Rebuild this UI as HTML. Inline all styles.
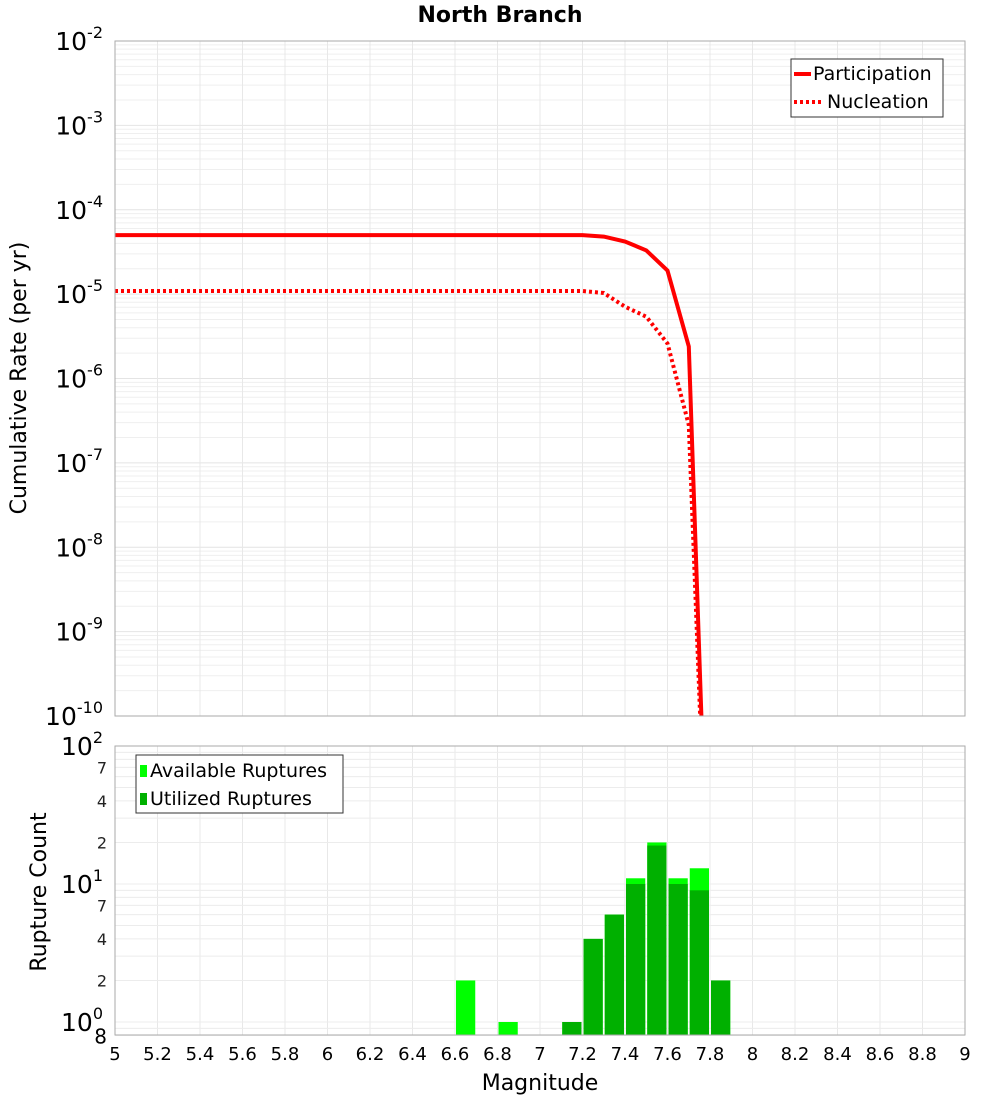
<!DOCTYPE html>
<html><head><meta charset="utf-8"><style>
body{margin:0;background:#fff;font-family:"Liberation Sans","DejaVu Sans",sans-serif}
svg{display:block}
</style></head><body>
<svg id="c" width="1000" height="1100" xmlns="http://www.w3.org/2000/svg" font-family="DejaVu Sans, Liberation Sans, sans-serif">
<text x="500" y="22" text-anchor="middle" font-size="22" font-weight="bold">North Branch</text>
<g id="topPlot"></g>
<g id="botPlot"></g>
<text transform="translate(26,378) rotate(-90)" text-anchor="middle" font-size="22">Cumulative Rate (per yr)</text>
<text transform="translate(46,892) rotate(-90)" text-anchor="middle" font-size="22">Rupture Count</text>
<text x="540" y="1090" text-anchor="middle" font-size="22">Magnitude</text>
</svg>
<script>
const lineMags=[5.0,5.5,6.0,6.5,7.0,7.2,7.3,7.4,7.5,7.6,7.7,7.8];
const participation=[5.0e-5,5.0e-5,5.0e-5,5.0e-5,5.0e-5,5.0e-5,4.8e-5,4.2e-5,3.3e-5,1.9e-5,2.4e-6,1e-13];
const nucleation=[1.09e-5,1.09e-5,1.09e-5,1.09e-5,1.09e-5,1.09e-5,1.03e-5,7.1e-6,5.4e-6,2.6e-6,2.8e-7,1e-13];
const barMags=[6.6,6.8,7.1,7.2,7.3,7.4,7.5,7.6,7.7,7.8];
const available=[2,1,1,4,6,11,20,11,13,2];
const utilized=[0,0,1,4,6,10,19,10,9,2];
const xTicks=["5","5.2","5.4","5.6","5.8","6","6.2","6.4","6.6","6.8","7","7.2","7.4","7.6","7.8","8","8.2","8.4","8.6","8.8","9"];
const topDecades=[-2,-3,-4,-5,-6,-7,-8,-9,-10];
const botMajor=[2,1,0];
const botMinorLabels=["7","4","2"];

const NS="http://www.w3.org/2000/svg";
const L=115,R=965;
const T1=41,B1=716,T2=746,B2=1035;
const x=m=>L+(m-5)/4*(R-L);
const yTop=v=>T1+(-2-Math.log10(v))/8*(B1-T1);
const yBot=v=>T2+(2-Math.log10(v))*138;
function el(p,tag,a){const e=document.createElementNS(NS,tag);for(const k in a)e.setAttribute(k,a[k]);p.appendChild(e);return e;}
const topG=document.getElementById('topPlot'),botG=document.getElementById('botPlot');

for(let d=-10;d<-2;d++){for(let k=1;k<10;k++){const v=k*Math.pow(10,d);const l=el(topG,'line',{x1:L,x2:R,y1:yTop(v),y2:yTop(v),stroke:k==1?'#e4e4e4':'#efefef','stroke-width':1});

}}
xTicks.forEach(t=>{const l=el(topG,'line',{x1:x(+t),x2:x(+t),y1:T1,y2:B1,stroke:'#e8e8e8'});


const l2=el(botG,'line',{x1:x(+t),x2:x(+t),y1:T2,y2:B2,stroke:'#e8e8e8'});

});
topDecades.forEach(d=>{const y=yTop(Math.pow(10,d));const t=el(topG,'text',{x:103,y:y+9,'text-anchor':'end','font-size':25});


t.innerHTML='10<tspan dy="-12" font-size="16">'+d+'</tspan>';});
const clip=el(topG,'clipPath',{id:'cp'});el(clip,'rect',{x:L,y:T1,width:R-L,height:B1-T1});
function path(vals,dash,name){let d='';lineMags.forEach((m,i)=>{d+=(i?'L':'M')+x(m).toFixed(1)+','+yTop(vals[i]).toFixed(1);});
const p=el(topG,'path',{d:d,fill:'none',stroke:'#ff0000','stroke-width':4,'stroke-dasharray':dash,'clip-path':'url(#cp)'});

}
path(participation,'none','participation-line');
path(nucleation,'3,3','nucleation-line');
el(topG,'rect',{x:L,y:T1,width:R-L,height:B1-T1,fill:'none',stroke:'#aaa'});
const lg=el(topG,'g',{});


el(lg,'rect',{x:791,y:59,width:152,height:58,fill:'#fff',stroke:'#333'});
el(lg,'line',{x1:794,x2:811,y1:74,y2:74,stroke:'#f00','stroke-width':4});
el(lg,'line',{x1:794,x2:822,y1:102,y2:102,stroke:'#f00','stroke-width':4,'stroke-dasharray':'3,3'});
const t1=el(lg,'text',{x:813,y:80,'font-size':19});t1.textContent='Participation';


const t2=el(lg,'text',{x:827,y:108,'font-size':19});t2.textContent='Nucleation';



for(let d=-1;d<2;d++){for(let k=1;k<10;k++){const v=k*Math.pow(10,d);if(v<0.8)continue;const l=el(botG,'line',{x1:L,x2:R,y1:yBot(v),y2:yBot(v),stroke:'#ececec'});

}}
botMajor.forEach(d=>{const y=yBot(Math.pow(10,d));const t=el(botG,'text',{x:103,y:y+9,'text-anchor':'end','font-size':25});


t.innerHTML='10<tspan dy="-12" font-size="16">'+d+'</tspan>';
if(d>0)botMinorLabels.forEach(s=>{const v=(+s)*Math.pow(10,d-1);const m=el(botG,'text',{x:107,y:yBot(v)+6,'text-anchor':'end','font-size':16,fill:'#222'});m.textContent=s;

});});
const e8=el(botG,'text',{x:107,y:yBot(0.8)+8,'text-anchor':'end','font-size':20});e8.textContent='8';


barMags.forEach((m,i)=>{const x0=x(m)+1,w=x(m+0.1)-x(m)-2;
if(available[i]>0){const b=el(botG,'rect',{x:x0,y:yBot(available[i]),width:w,height:B2-yBot(available[i]),fill:'#00ff00'});

}
if(utilized[i]>0){const b=el(botG,'rect',{x:x0,y:yBot(utilized[i]),width:w,height:B2-yBot(utilized[i]),fill:'#00b000'});

}});
el(botG,'rect',{x:L,y:T2,width:R-L,height:B2-T2,fill:'none',stroke:'#aaa'});
xTicks.forEach(t=>{const e=el(botG,'text',{x:x(+t),y:1060,'text-anchor':'middle','font-size':18});e.textContent=t;

});
const bl=el(botG,'g',{});


el(bl,'rect',{x:136,y:755,width:207,height:58,fill:'#fff',stroke:'#333'});
el(bl,'rect',{x:140,y:765,width:7,height:12,fill:'#00ff00'});
el(bl,'rect',{x:140,y:793,width:7,height:12,fill:'#00b000'});
const a1=el(bl,'text',{x:150,y:777,'font-size':19});a1.textContent='Available Ruptures';


const a2=el(bl,'text',{x:150,y:805,'font-size':19});a2.textContent='Utilized Ruptures';


</script>
</body></html>
